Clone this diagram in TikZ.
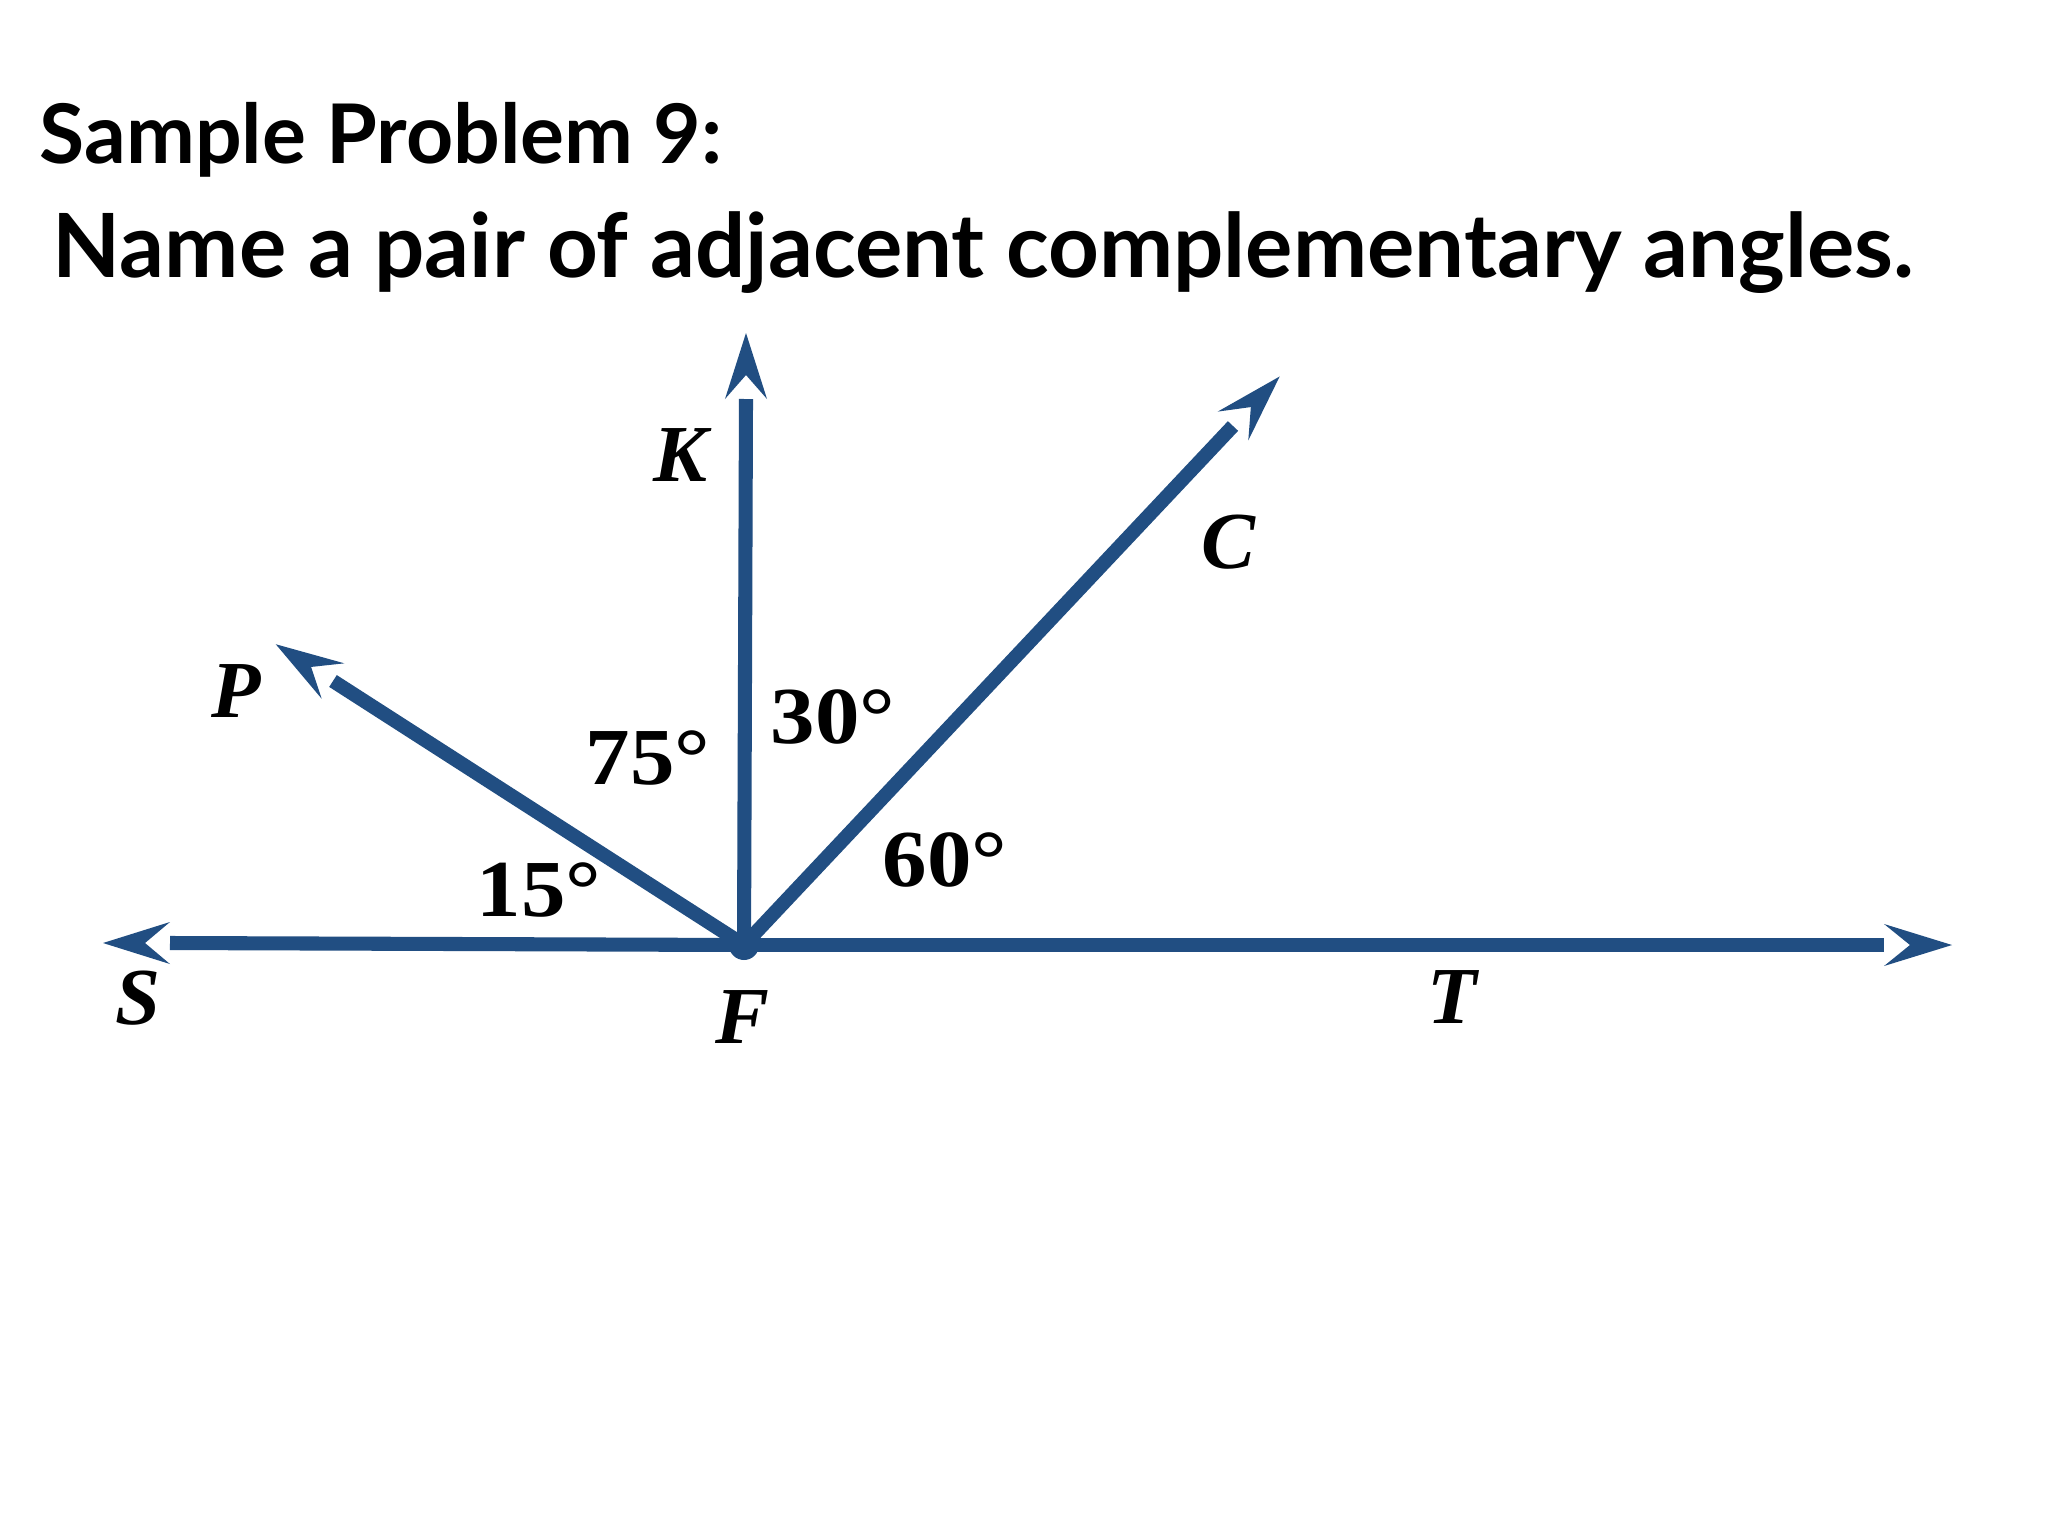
\documentclass[tikz,border=0pt]{standalone}
\usepackage{fontspec}
\usetikzlibrary{calc}
\newfontfamily\lato{Lato}
\newfontfamily\cambria{Liberation Serif}
\definecolor{raycol}{RGB}{33,78,130}
\newcommand{\rayhead}[2]{%
  \fill[raycol] (#2) -- ($(#1)!0.21cm!90:(#2)$) -- ($(#2)!0.42cm!(#1)$) -- ($(#1)!0.21cm!-90:(#2)$) -- cycle;}
\newcommand{\widen}[1]{\scalebox{1.1}[1]{#1}}
\begin{document}
\begin{tikzpicture}[x=0.01cm,y=-0.01cm,
  ray/.style={draw=raycol,line width=4pt,line cap=butt},
  ptlabel/.style={font=\cambria\bfseries\itshape\fontsize{23}{27}\selectfont,inner sep=0pt,anchor=center},
  anglabel/.style={font=\cambria\bfseries\fontsize{23}{27}\selectfont,inner sep=0pt,anchor=center},
  titleA/.style={font=\lato\bfseries\fontsize{23.4}{28}\selectfont,inner sep=0pt,anchor=base west},
  titleB/.style={font=\lato\bfseries\fontsize{25.2}{30}\selectfont,inner sep=0pt,anchor=base west}]
\useasboundingbox[fill=white] (0,0) rectangle (2048,1536);
% title
\node[titleA] (t1) at (39,163) {Sample Problem 9:};
\node[titleB] (t2) at (52,277) {Name a pair of adjacent complementary angles.};
% points
\coordinate (F) at (744,945);
\coordinate (Send) at (170,943);  \coordinate (Stip) at (103,943);
\coordinate (Tend) at (1884,945); \coordinate (Ttip) at (1952,945);
\coordinate (Kend) at (746,399);  \coordinate (Ktip) at (746,333);
\coordinate (Cend) at (1233,426); \coordinate (Ctip) at ($(Cend)!-0.68cm!(F)$);
\coordinate (Pend) at (333,681);  \coordinate (Ptip) at ($(Pend)!-0.68cm!(F)$);
% rays
\draw[ray] (F) -- (Send);
\draw[ray] (F) -- (Tend);
\draw[ray] (F) -- (Kend);
\draw[ray] (F) -- (Cend);
\draw[ray] (F) -- (Pend);
\rayhead{Send}{Stip}
\rayhead{Tend}{Ttip}
\rayhead{Kend}{Ktip}
\rayhead{Cend}{Ctip}
\rayhead{Pend}{Ptip}
\fill[raycol] (F) circle (15);
% point labels
\node[ptlabel] (lK) at (680,455) {K};
\node[ptlabel] (lC) at (1228,542) {C};
\node[ptlabel] (lP) at (236,691) {P};
\node[ptlabel] (lS) at (138,998) {S};
\node[ptlabel] (lF) at (742,1017) {F};
\node[ptlabel] (lT) at (1452,997) {T};
% angle labels
\node[anglabel] (a75) at (648,758) {\widen{75°}};
\node[anglabel] (a30) at (833,717) {\widen{30°}};
\node[anglabel] (a15) at (539,890) {\widen{15°}};
\node[anglabel] (a60) at (945,860) {\widen{60°}};
\end{tikzpicture}
\end{document}
